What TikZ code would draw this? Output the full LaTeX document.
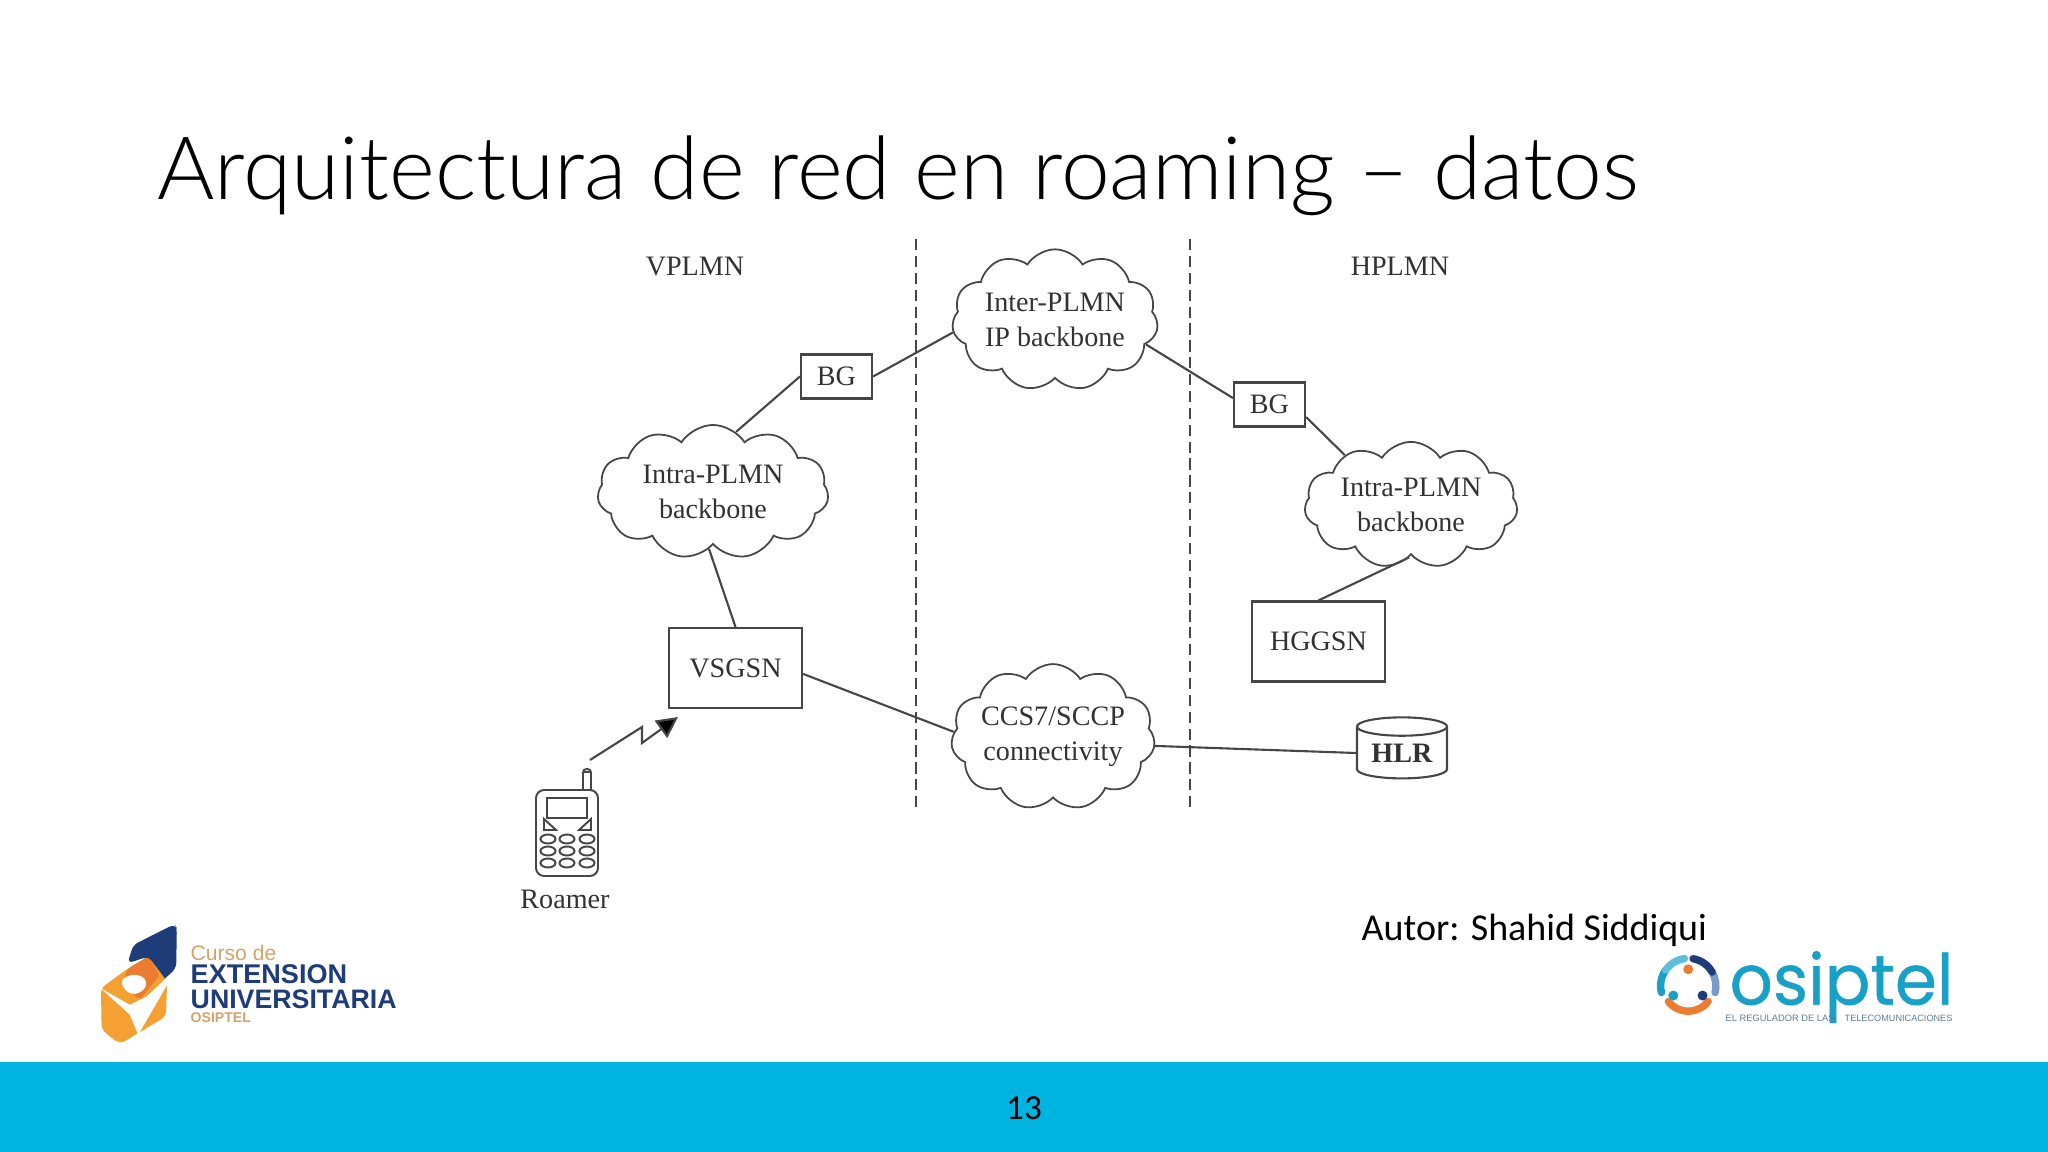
\documentclass[tikz,border=0pt]{standalone}
\usepackage{fontspec}
\usepackage{tikz}
\usetikzlibrary{shapes.geometric, shapes.symbols, arrows.meta}
\setmainfont{Carlito}
\newfontfamily\titlefont{Lato Light}
\newfontfamily\figfont{Liberation Serif}
\newfontfamily\logofont{Liberation Sans}
\newfontfamily\osipfont[FakeBold=0.7]{Poppins}
\definecolor{mydark}{RGB}{50,50,50}
\definecolor{myline}{RGB}{70,70,70}
\definecolor{myband}{RGB}{0,180,225}
\definecolor{mynavy}{RGB}{30,60,120}
\definecolor{myorange}{RGB}{245,160,50}
\definecolor{mydeep}{RGB}{235,125,50}
\definecolor{mysand}{RGB}{215,160,105}
\definecolor{myteal}{RGB}{25,160,198}
\definecolor{mysky}{RGB}{95,190,220}
\definecolor{mysteel}{RGB}{120,155,200}
\definecolor{mytag}{RGB}{95,125,150}
\tikzset{
  figtext/.style={font=\figfont\fontsize{8}{10}\selectfont, text=mydark, align=center},
  box/.style={rectangle, draw=myline, line width=0.6pt, inner sep=0pt, figtext},
  bgbox/.style={box, minimum width=71pt*0.2845, minimum height=44pt*0.2845},
  nodebox/.style={box, minimum width=133pt*0.2845, minimum height=80pt*0.2845},
  backbone/.style={cloud, draw=myline, line width=0.5pt, inner sep=-3pt, cloud puffs=11,
    cloud puff arc=115, aspect=1.4, figtext},
  link/.style={draw=myline, line width=0.6pt},
  boundary/.style={draw=myline, line width=0.6pt, dash pattern=on 3.2pt off 1.6pt},
  hlrdb/.style={cylinder, shape border rotate=90, aspect=0.3, draw=myline, line width=0.6pt,
    inner sep=0pt, minimum width=90pt*0.2845, minimum height=61pt*0.2845, figtext},
  phone/.style={draw=myline, line width=0.55pt},
  phonekey/.style={phone, x radius=7.5, y radius=4.5},
  radio/.style={draw=myline, line width=0.6pt, -{Triangle[length=6pt,width=6pt,fill=black]}},
  logotext/.style={anchor=west, inner sep=0pt}
}

\begin{document}
\begin{tikzpicture}[x=0.01cm, y=-0.01cm]
  \useasboundingbox (0,0) rectangle (2048,1152);
  % ── Slide frame ──────────────────────────────
  \node[anchor=base west, inner sep=0pt, font=\titlefont\fontsize{24.9}{30}\selectfont, text=black] (title)
    at (157,200) {Arquitectura de red en roaming – datos};
  \fill[myband] (0,1062) rectangle (2048,1152);
  \node[font=\fontsize{10}{12}\selectfont, text=black] (pageno) at (1024,1108) {13};
  \node[anchor=base west, inner sep=0pt, font=\fontsize{10.8}{12}\selectfont, text=black] (author)
    at (1361,940) {Autor: Shahid Siddiqui};

  % ── Network labels and boundaries ────────────
  \node[figtext] (vplmn) at (695,267) {VPLMN};
  \node[figtext] (hplmn) at (1400,266) {HPLMN};
  \coordinate (bndla) at (916,239);
  \coordinate (bndlb) at (916,810);
  \coordinate (bndra) at (1190,239);
  \coordinate (bndrb) at (1190,810);
  \draw[boundary] (bndla) -- (bndlb);
  \draw[boundary] (bndra) -- (bndrb);

  % ── Clouds ───────────────────────────────────
  \node[backbone, minimum width=206pt*0.2845, minimum height=140pt*0.2845] (interplmn)
    at (1055,320) {Inter-PLMN\\IP backbone};
  \node[backbone, aspect=1.6, minimum width=231pt*0.2845, minimum height=134pt*0.2845] (intravis)
    at (713,492) {Intra-PLMN\\backbone};
  \node[backbone, aspect=1.62, minimum width=213pt*0.2845, minimum height=122pt*0.2845] (intrahome)
    at (1411,505) {Intra-PLMN\\backbone};
  \node[backbone, minimum width=204pt*0.2845, minimum height=140pt*0.2845] (ccsconn)
    at (1053,737) {CCS7/SCCP\\connectivity};

  % ── Boxes ────────────────────────────────────
  \node[bgbox] (bgvis) at (836.5,376.5) {BG};
  \node[bgbox] (bghome) at (1269.5,404.5) {BG};
  \node[nodebox] (vsgsn) at (735.5,668) {VSGSN};
  \node[nodebox] (hggsn) at (1318.5,641.5) {HGGSN};
  \node[hlrdb] (hlr) at (1402,753) {\raisebox{-1.2pt}{\textbf{HLR}}};

  % ── Links ────────────────────────────────────
  \draw[link] (bgvis.west) -- (intravis.69);
  \draw[link] (bgvis.east) -- (interplmn.187);
  \draw[link] (interplmn.-15) -- (bghome.170);
  \draw[link] (bghome.-19) -- (intrahome.143);
  \draw[link] (intrahome.-92) -- (hggsn.north);
  \draw[link] (intravis.-94) -- (vsgsn.north);
  \draw[link] (vsgsn.-5) -- (ccsconn.177);
  \draw[link] (ccsconn.-5) -- (hlr.west);

  % ── Roamer handset ───────────────────────────
  \draw[phone, rounded corners=2.3pt] (536,790) rectangle (598,876);
  \draw[phone, rounded corners=1pt] (583,790) -- (583,769) -- (591,769) -- (591,790);
  \draw[phone] (583,772) -- (591,772);
  \draw[phone] (547,798) rectangle (587,818);
  \draw[phone] (544,819) -- (544,830) -- (556,830) -- cycle;
  \draw[phone] (591,819) -- (591,830) -- (579,830) -- cycle;
  \foreach \keyx in {548,567,587}
    \foreach \keyy in {839,851,863}
      \draw[phonekey] (\keyx,\keyy) ellipse [];
  \node[figtext] (roamer) at (565,899) {Roamer};
  \coordinate (radiofrom) at (590,760);
  \coordinate (radiofoot) at (642,727);
  \coordinate (radiostep) at (642,743);
  \coordinate (radioto) at (678,717);
  \draw[radio] (radiofrom) -- (radiofoot) -- (radiostep) -- (radioto);

  % ── Course logo (left) ───────────────────────
  \begin{scope}[shift={(80,900)}, x=0.00333cm, y=-0.00333cm]
    \fill[mynavy, rounded corners=1.5pt] (143,190) -- (160,135) -- (285,72) -- (291,85) -- (289,205) -- (235,255) -- (205,170) -- cycle;
    \fill[myorange, rounded corners=1.5pt] (63,265) -- (145,205) -- (205,170) -- (262,245) -- (258,350) -- (120,433) -- (65,390) -- cycle;
    \fill[mydeep, rounded corners=1pt] (145,205) -- (205,170) -- (240,225) -- (180,300) -- (125,255) -- cycle;
    \fill[white] (62,265) -- (150,315) -- (200,290) -- (291,205) -- (175,405) -- (150,345) -- cycle;
    \fill[white, rounded corners=2pt] (118,240) -- (165,220) -- (205,240) -- (190,278) -- (145,285) -- cycle;
  \end{scope}
  \node[logotext, font=\logofont\fontsize{6}{8}\selectfont, text=mysand] (curso) at (190,953) {Curso de};
  \node[logotext, font=\logofont\bfseries\fontsize{7.7}{8}\selectfont, text=mynavy] (extension) at (190,974) {EXTENSION};
  \node[logotext, font=\logofont\bfseries\fontsize{7.6}{8}\selectfont, text=mynavy] (universitaria) at (190,999) {UNIVERSITARIA};
  \node[logotext, font=\logofont\bfseries\fontsize{4}{5}\selectfont, text=mysand] (osiptelsub) at (190,1018) {OSIPTEL};

  % ── Regulator logo (right) ───────────────────
  \begin{scope}[shift={(1630,930)}, x=0.00333cm, y=-0.00333cm]
    \draw[mydeep, line width=2.1pt, line cap=round] (175,168) ++(142:76) arc (142:38:76);
    \fill[mydeep] (175,118) circle (15);
    \draw[myteal, line width=2.1pt, line cap=round] (175,168) ++(166:83) arc (166:215:83);
    \draw[mysky, line width=2.1pt, line cap=round] (175,168) ++(215:83) arc (215:262:83);
    \draw[mysteel, line width=2.1pt, line cap=round] (175,168) ++(14:83) arc (14:-30:83);
    \draw[mynavy, line width=2.1pt, line cap=round] (175,168) ++(-30:83) arc (-30:-80:83);
    \fill[myteal] (130,197) circle (15);
    \fill[mynavy] (218,197) circle (15);
  \end{scope}
  \node[logotext, xscale=0.96, transform shape, font=\osipfont\fontsize{20}{24}\selectfont, text=myteal] (osiptel) at (1729,987) {osiptel};
  \node[logotext, font=\logofont\fontsize{2.65}{3}\selectfont, text=mytag] (regulador) at (1725,1018) {EL REGULADOR DE LAS};
  \node[logotext, font=\logofont\fontsize{2.6}{3}\selectfont, text=mytag] (telecom) at (1844,1018) {TELECOMUNICACIONES};
\end{tikzpicture}
\end{document}
